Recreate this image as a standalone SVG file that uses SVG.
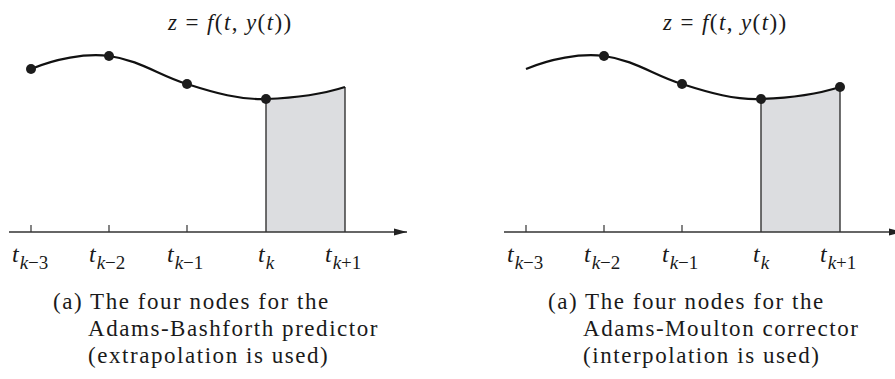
<svg xmlns="http://www.w3.org/2000/svg" width="895" height="379" viewBox="0 0 895 379">
<style>
  text { font-family: "Liberation Serif", "Times New Roman", serif; fill: #1a1a1a; }
  .title { font-size: 23px; letter-spacing: 1.4px; }
  .cap { font-size: 23px; letter-spacing: 1.55px; }
  .t { font-size: 24px; font-style: italic; }
  .sub { font-size: 19px; }
  .it { font-style: italic; }
  .up { font-style: normal; }
  .curve { fill: none; stroke: #111; stroke-width: 2.2; }
  .area { fill: #dcdde0; stroke: none; }
  .vert { stroke: #333; stroke-width: 1.4; }
  .axis { stroke: #333; stroke-width: 1.4; fill: none; }
  .tick { stroke: #333; stroke-width: 1.2; }
  .dot { fill: #1c1c1c; }
</style>
<defs>
  <marker id="arrow" markerWidth="14" markerHeight="8" refX="13" refY="4" orient="auto" markerUnits="userSpaceOnUse">
    <path d="M0,0.5 L13,4 L0,7.5 Z" fill="#222"/>
  </marker>
</defs>

<!-- Panel (a) left: Adams-Bashforth -->
<g id="panel-left">
  <text class="title" x="168" y="30"><tspan class="it">z</tspan> = <tspan class="it">f</tspan>(<tspan class="it">t</tspan>, <tspan class="it">y</tspan>(<tspan class="it">t</tspan>))</text>
  <g id="area-left">
    <path class="area" d="M266,99 C295,98 320,95 345,87 L345,232 L266,232 Z"/>
    <line class="vert" x1="266" y1="99" x2="266" y2="232"/>
    <line class="vert" x1="345" y1="87" x2="345" y2="232"/>
  </g>
  <g id="axis-left">
    <line class="axis" x1="9" y1="232" x2="407" y2="232" marker-end="url(#arrow)"/>
    <line class="tick" x1="31" y1="225" x2="31" y2="232"/>
    <line class="tick" x1="109" y1="225" x2="109" y2="232"/>
    <line class="tick" x1="187" y1="225" x2="187" y2="232"/>
  </g>
  <path id="curve-left" class="curve" d="M31,69 C55,59 85,53 109,56 C140,60 160,76 187,84 C215,93 240,100 266,99 C295,98 320,95 345,87"/>
  <g id="nodes-left">
    <circle class="dot" cx="31" cy="69" r="5"/>
    <circle class="dot" cx="109" cy="56" r="5"/>
    <circle class="dot" cx="187" cy="84" r="5"/>
    <circle class="dot" cx="266" cy="99" r="5"/>
  </g>
  <g id="labels-left">
    <text class="t" x="12" y="262">t<tspan class="sub" dx="1" dy="7">k<tspan class="up">−3</tspan></tspan></text>
    <text class="t" x="89" y="262">t<tspan class="sub" dx="1" dy="7">k<tspan class="up">−2</tspan></tspan></text>
    <text class="t" x="167" y="262">t<tspan class="sub" dx="1" dy="7">k<tspan class="up">−1</tspan></tspan></text>
    <text class="t" x="258" y="262">t<tspan class="sub" dx="1" dy="7">k</tspan></text>
    <text class="t" x="325" y="262">t<tspan class="sub" dx="1" dy="7">k<tspan class="up">+1</tspan></tspan></text>
  </g>
  <g id="caption-left">
    <text class="cap" x="53" y="309">(a) The four nodes for the</text>
    <text class="cap" x="88" y="336">Adams-Bashforth predictor</text>
    <text class="cap" x="88" y="363">(extrapolation is used)</text>
  </g>
</g>

<!-- Panel (a) right: Adams-Moulton -->
<g id="panel-right" transform="translate(495,0)">
  <text class="title" x="168" y="30"><tspan class="it">z</tspan> = <tspan class="it">f</tspan>(<tspan class="it">t</tspan>, <tspan class="it">y</tspan>(<tspan class="it">t</tspan>))</text>
  <g id="area-right">
    <path class="area" d="M266,99 C295,98 320,95 345,87 L345,232 L266,232 Z"/>
    <line class="vert" x1="266" y1="99" x2="266" y2="232"/>
    <line class="vert" x1="345" y1="87" x2="345" y2="232"/>
  </g>
  <g id="axis-right">
    <line class="axis" x1="9" y1="232" x2="407" y2="232" marker-end="url(#arrow)"/>
    <line class="tick" x1="31" y1="225" x2="31" y2="232"/>
    <line class="tick" x1="109" y1="225" x2="109" y2="232"/>
    <line class="tick" x1="187" y1="225" x2="187" y2="232"/>
  </g>
  <path id="curve-right" class="curve" d="M31,69 C55,59 85,53 109,56 C140,60 160,76 187,84 C215,93 240,100 266,99 C295,98 320,95 345,87"/>
  <g id="nodes-right">
    <circle class="dot" cx="109" cy="56" r="5"/>
    <circle class="dot" cx="187" cy="84" r="5"/>
    <circle class="dot" cx="266" cy="99" r="5"/>
    <circle class="dot" cx="345" cy="87" r="5"/>
  </g>
  <g id="labels-right">
    <text class="t" x="12" y="262">t<tspan class="sub" dx="1" dy="7">k<tspan class="up">−3</tspan></tspan></text>
    <text class="t" x="89" y="262">t<tspan class="sub" dx="1" dy="7">k<tspan class="up">−2</tspan></tspan></text>
    <text class="t" x="167" y="262">t<tspan class="sub" dx="1" dy="7">k<tspan class="up">−1</tspan></tspan></text>
    <text class="t" x="258" y="262">t<tspan class="sub" dx="1" dy="7">k</tspan></text>
    <text class="t" x="325" y="262">t<tspan class="sub" dx="1" dy="7">k<tspan class="up">+1</tspan></tspan></text>
  </g>
  <g id="caption-right">
    <text class="cap" x="53" y="309">(a) The four nodes for the</text>
    <text class="cap" x="88" y="336">Adams-Moulton corrector</text>
    <text class="cap" x="88" y="363">(interpolation is used)</text>
  </g>
</g>
</svg>
